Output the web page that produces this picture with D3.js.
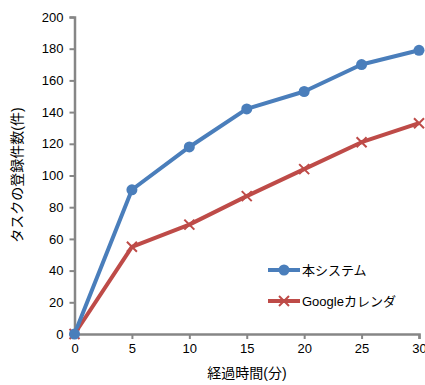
<!DOCTYPE html>
<html><head><meta charset="utf-8">
<script src="https://cdn.jsdelivr.net/npm/d3@7"></script>
<style>body{margin:0;background:#fff;overflow:hidden}</style>
</head><body><svg id="c" width="425" height="385"></svg>
<script>
const minutes = [0, 5, 10, 15, 20, 25, 30];
const ourSystem = [0, 91, 118, 142, 153, 170, 179];
const googleCal = [0, 55, 69, 87, 104, 121, 133];
const seriesNames = ["本システム", "Googleカレンダ"];
const yTicks = [0, 20, 40, 60, 80, 100, 120, 140, 160, 180, 200];
const xTitle = "経過時間(分)";
const yTitle = "タスクの登録件数(件)";

const svg = d3.select("#c");
const x = d3.scaleLinear().domain([0, 30]).range([74.5, 419]);
const y = d3.scaleLinear().domain([0, 200]).range([334, 17]);
const font = "'Liberation Sans', 'Noto Sans CJK JP', sans-serif";
const axisColor = "#868686";

const gx = svg.append("g").attr("transform", "translate(0,334)")
  .call(d3.axisBottom(x).tickValues(minutes).tickSize(5).tickPadding(5));
const gy = svg.append("g").attr("transform", "translate(74.5,0)")
  .call(d3.axisLeft(y).tickValues(yTicks).tickSize(5).tickPadding(6));
[gx, gy].forEach(g => {
  g.select(".domain").attr("stroke", axisColor).attr("stroke-width", 2.5);
  g.selectAll(".tick line").attr("stroke", axisColor).attr("stroke-width", 2);
  g.selectAll("text").attr("fill", "#000").style("font-family", font).style("font-size", "13px");
});

const line = d3.line().x((d, i) => x(minutes[i])).y(d => y(d));
const blue = "#4A7EBB", red = "#BE4B48";

svg.append("path").datum(googleCal).attr("d", line).attr("fill", "none")
  .attr("stroke", red).attr("stroke-width", 4).attr("stroke-linejoin", "round");
svg.append("path").datum(ourSystem).attr("d", line).attr("fill", "none")
  .attr("stroke", blue).attr("stroke-width", 4).attr("stroke-linejoin", "round");

function cross(g, cx, cy) {
  const s = 5;
  g.append("path").attr("d", `M${cx-s},${cy-s}L${cx+s},${cy+s}M${cx-s},${cy+s}L${cx+s},${cy-s}`)
    .attr("stroke", red).attr("stroke-width", 2).attr("fill", "none");
}
const gr = svg.append("g");
googleCal.forEach((v, i) => cross(gr, x(minutes[i]), y(v)));
svg.append("g").selectAll("circle").data(ourSystem).join("circle")
  .attr("cx", (d, i) => x(minutes[i])).attr("cy", d => y(d)).attr("r", 5.5).attr("fill", blue);

// legend
const lg = svg.append("g");
const legendY = [270, 301];
lg.append("line").attr("x1", 268).attr("x2", 300).attr("y1", legendY[0]).attr("y2", legendY[0])
  .attr("stroke", blue).attr("stroke-width", 4);
lg.append("circle").attr("cx", 284).attr("cy", legendY[0]).attr("r", 5.5).attr("fill", blue);
lg.append("line").attr("x1", 268).attr("x2", 300).attr("y1", legendY[1]).attr("y2", legendY[1])
  .attr("stroke", red).attr("stroke-width", 4);
cross(lg, 284, legendY[1]);
seriesNames.forEach((n, i) => lg.append("text").attr("x", 302).attr("y", legendY[i]).attr("dy", "0.35em")
  .style("font-family", font).style("font-size", "13px").text(n));

svg.append("text").attr("x", 247).attr("y", 378).attr("text-anchor", "middle")
  .style("font-family", font).style("font-size", "14px").text(xTitle);
svg.append("text").attr("transform", "translate(22,175) rotate(-90)").attr("text-anchor", "middle")
  .style("font-family", font).style("font-size", "14px").text(yTitle);
</script></body></html>
